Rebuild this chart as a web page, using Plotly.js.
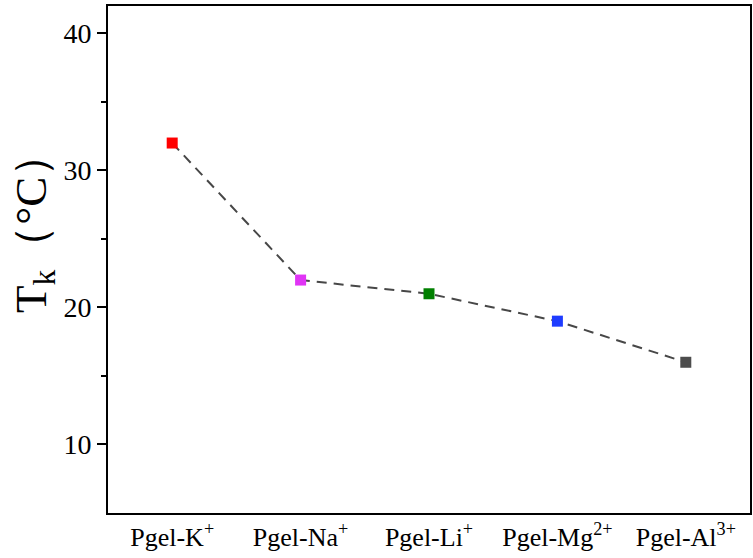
<!DOCTYPE html>
<html>
<head>
<meta charset="utf-8">
<script src="https://cdn.plot.ly/plotly-3.0.1.min.js"></script>
<style>html,body{margin:0;padding:0;background:#fff;}#chart{width:753px;height:558px;}</style>
</head>
<body>
<div id="chart"></div>
<script>
var categories = ["Pgel-K<sup>+</sup>", "Pgel-Na<sup>+</sup>", "Pgel-Li<sup>+</sup>", "Pgel-Mg<sup>2+</sup>", "Pgel-Al<sup>3+</sup>"];
var tkValues = [32, 22, 21, 19, 16];
var markerColors = ["#ff0000", "#e034f5", "#008000", "#1e3cff", "#4d4d4d"];
var yTickVals = [10, 20, 30, 40];
var yTitle = "T<sub>k</sub>（°C）";

var xIdx = categories.map(function(_, i){ return i; });

var trace = {
  x: xIdx,
  y: tkValues,
  type: "scatter",
  mode: "lines+markers",
  line: {color: "#474747", width: 2, dash: "10px,7px"},
  marker: {symbol: "square", size: 11, color: markerColors, line: {width: 0}},
  hoverinfo: "none",
  showlegend: false
};

var font = "Liberation Serif";

var layout = {
  width: 753,
  height: 558,
  margin: {l: 108, r: 3, t: 6, b: 45},
  paper_bgcolor: "#ffffff",
  plot_bgcolor: "#ffffff",
  showlegend: false,
  font: {family: font, color: "#000000"},
  xaxis: {
    range: [-0.5, 4.5],
    tickmode: "array",
    tickvals: xIdx,
    ticktext: categories,
    ticks: "",
    showgrid: false,
    zeroline: false,
    showline: true,
    linecolor: "#000000",
    linewidth: 2,
    mirror: true,
    tickfont: {family: font, size: 26, color: "#000000"}
  },
  yaxis: {
    range: [5, 42],
    tickmode: "array",
    tickvals: yTickVals,
    ticks: "outside",
    ticklen: 9,
    tickwidth: 2,
    tickcolor: "#000000",
    minor: {tickvals: [15, 25, 35], ticks: "outside", ticklen: 5, tickwidth: 2, tickcolor: "#000000", showgrid: false},
    showgrid: false,
    zeroline: false,
    showline: true,
    linecolor: "#000000",
    linewidth: 2,
    mirror: true,
    tickfont: {family: font, size: 28, color: "#000000"}
  },
  annotations: [{
    text: yTitle,
    xref: "paper", yref: "paper",
    x: (34 - 108) / 642, y: (513 - 223) / 507,
    xanchor: "center", yanchor: "middle",
    textangle: -90,
    showarrow: false,
    font: {family: font, size: 45, color: "#000000"}
  }]
};

Plotly.newPlot("chart", [trace], layout, {staticPlot: true, displayModeBar: false});
</script>
</body>
</html>
